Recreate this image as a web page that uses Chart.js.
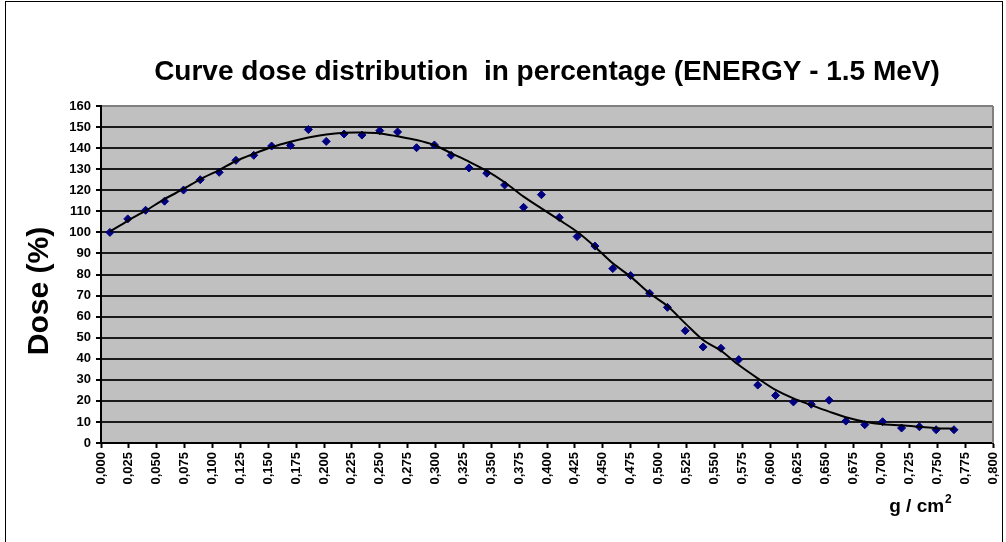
<!DOCTYPE html>
<html>
<head>
<meta charset="utf-8">
<script src="https://cdn.jsdelivr.net/npm/chart.js@4"></script>
<style>
  body { margin: 0; background: #fff; }
  #wrap { width: 1006px; height: 542px; }
</style>
</head>
<body>
<div id="wrap"><canvas id="myChart" width="1006" height="542"></canvas></div>
<script>
// measured points (g/cm2 , dose %)
var depth = [0.008, 0.024, 0.040, 0.057, 0.074, 0.089, 0.106, 0.121, 0.137, 0.153, 0.170, 0.186,
             0.202, 0.218, 0.234, 0.250, 0.266, 0.283, 0.299, 0.314, 0.330, 0.346, 0.362, 0.379,
             0.395, 0.411, 0.427, 0.443, 0.459, 0.475, 0.492, 0.508, 0.524, 0.540, 0.556, 0.572,
             0.589, 0.605, 0.621, 0.637, 0.653, 0.668, 0.685, 0.701, 0.718, 0.734, 0.749, 0.765];
var dose = [100, 106.4, 110.5, 114.8, 120.1, 125, 128.5, 134.2, 136.6, 141, 141.3, 148.8,
            143.2, 146.7, 146.2, 148.3, 147.7, 140.2, 141.5, 136.6, 130.6, 128.1, 122.5, 111.9,
            117.9, 107.1, 98, 93.5, 82.8, 79.5, 71.1, 64.4, 53.3, 45.6, 45, 39.6,
            27.5, 22.6, 19.5, 18.4, 20.3, 10.4, 8.7, 10.1, 7.1, 7.7, 6.3, 6.3];
// trend line read at the same depths
var trend = [100.4, 105.5, 110.3, 115.8, 120.6, 125.2, 129.6, 133.9, 137.3, 140.4, 143, 145,
             146.5, 147.3, 147.4, 147, 145.6, 143.9, 141.5, 137.6, 133.6, 129.2, 123.8, 117,
             111.4, 105.9, 100.3, 93.2, 85.3, 79, 71.1, 65, 56.8, 48.9, 43.8, 37,
             30.7, 25.2, 21.2, 18, 14.9, 12.2, 10.1, 8.9, 8.4, 7.7, 7, 6.8];

var titleText = 'Curve dose distribution  in percentage (ENERGY - 1.5 MeV)';
var yTitle = 'Dose (%)';
var xTitle = 'g / cm';

var points = [];
var line = [];
for (var i = 0; i < depth.length; i++) {
    points.push({x: depth[i], y: dose[i]});
    line.push({x: depth[i], y: trend[i]});
}

const FONT = 'Liberation Sans, Arial, sans-serif';

const frame = {
    id: 'frame',
    beforeDraw(chart) {
        const ctx = chart.ctx;
        const a = chart.chartArea;
        ctx.save();
        ctx.fillStyle = '#fff';
        ctx.fillRect(0, 0, chart.width, chart.height);
        ctx.strokeStyle = '#000';
        ctx.lineWidth = 1;
        ctx.strokeRect(5.5, 1.5, 997, 600);
        ctx.fillStyle = '#C0C0C0';
        ctx.fillRect(a.left, a.top, a.right - a.left, a.bottom - a.top);
        ctx.restore();
    },
    afterDraw(chart) {
        const ctx = chart.ctx;
        const a = chart.chartArea;
        ctx.save();
        // right border of plot
        ctx.strokeStyle = '#808080';
        ctx.lineWidth = 2;
        ctx.beginPath();
        ctx.moveTo(a.right, a.top);
        ctx.lineTo(a.right, a.bottom);
        ctx.stroke();
        // y title
        ctx.fillStyle = '#000';
        ctx.font = 'bold 30px ' + FONT;
        ctx.textAlign = 'center';
        ctx.textBaseline = 'middle';
        ctx.translate(40, 291);
        ctx.rotate(-Math.PI / 2);
        ctx.fillText(yTitle, 0, 0);
        ctx.restore();
        // x title with superscript
        ctx.save();
        ctx.fillStyle = '#000';
        ctx.font = 'bold 19px ' + FONT;
        ctx.textBaseline = 'alphabetic';
        var w = ctx.measureText(xTitle).width;
        ctx.font = 'bold 12px ' + FONT;
        var w2 = ctx.measureText('2').width;
        var x0 = 920 - (w + w2) / 2;
        ctx.font = 'bold 19px ' + FONT;
        ctx.fillText(xTitle, x0, 512);
        ctx.font = 'bold 12px ' + FONT;
        ctx.fillText('2', x0 + w + 1, 503);
        ctx.restore();
    }
};

const config = {
    type: 'scatter',
    data: {
        datasets: [{
            type: 'line',
            data: line,
            borderColor: '#000',
            borderWidth: 2,
            pointRadius: 0,
            tension: 0.3,
            fill: false
        }, {
            data: points,
            backgroundColor: '#000080',
            borderColor: '#000080',
            borderWidth: 1,
            pointStyle: 'rectRot',
            pointRadius: 4
        }]
    },
    options: {
        responsive: false,
        animation: false,
        layout: {padding: {top: 0, left: 0, right: 13, bottom: 0}},
        plugins: {
            legend: {display: false},
            tooltip: {enabled: false},
            title: {
                display: true,
                fullSize: false,
                text: titleText,
                color: '#000',
                font: {family: FONT, size: 28, weight: 'bold', lineHeight: 1.2},
                padding: {top: 55, bottom: 17.4}
            }
        },
        scales: {
            x: {
                type: 'linear',
                min: 0,
                max: 0.8,
                afterFit: function (s) {
                    s.height = 99;
                    s.paddingRight = 0;
                    s.paddingLeft = 0;
                },
                afterBuildTicks: function (s) {
                    var t = [];
                    for (var k = 0; k <= 32; k++) t.push({value: k * 0.025});
                    s.ticks = t;
                },
                border: {color: '#000', width: 2},
                grid: {drawOnChartArea: false, drawTicks: true, tickLength: 5, tickColor: '#000', tickWidth: 2},
                ticks: {
                    autoSkip: false,
                    maxRotation: 90,
                    minRotation: 90,
                    padding: 4,
                    color: '#000',
                    font: {family: FONT, size: 13, weight: 'bold'},
                    callback: function (v) { return v.toFixed(3).replace('.', ','); }
                }
            },
            y: {
                min: 0,
                max: 160,
                afterFit: function (s) { s.width = 101; },
                border: {color: '#000', width: 2},
                grid: {
                    color: function (c) { return c.tick && c.tick.value === 160 ? '#808080' : '#1a1a1a'; },
                    lineWidth: 2,
                    tickLength: 5,
                    tickColor: '#000',
                    tickWidth: 2
                },
                ticks: {
                    stepSize: 10,
                    padding: 5,
                    color: '#000',
                    font: {family: FONT, size: 13, weight: 'bold'}
                }
            }
        }
    },
    plugins: [frame]
};

var myChart = new Chart(document.getElementById('myChart'), config);
</script>
</body>
</html>
